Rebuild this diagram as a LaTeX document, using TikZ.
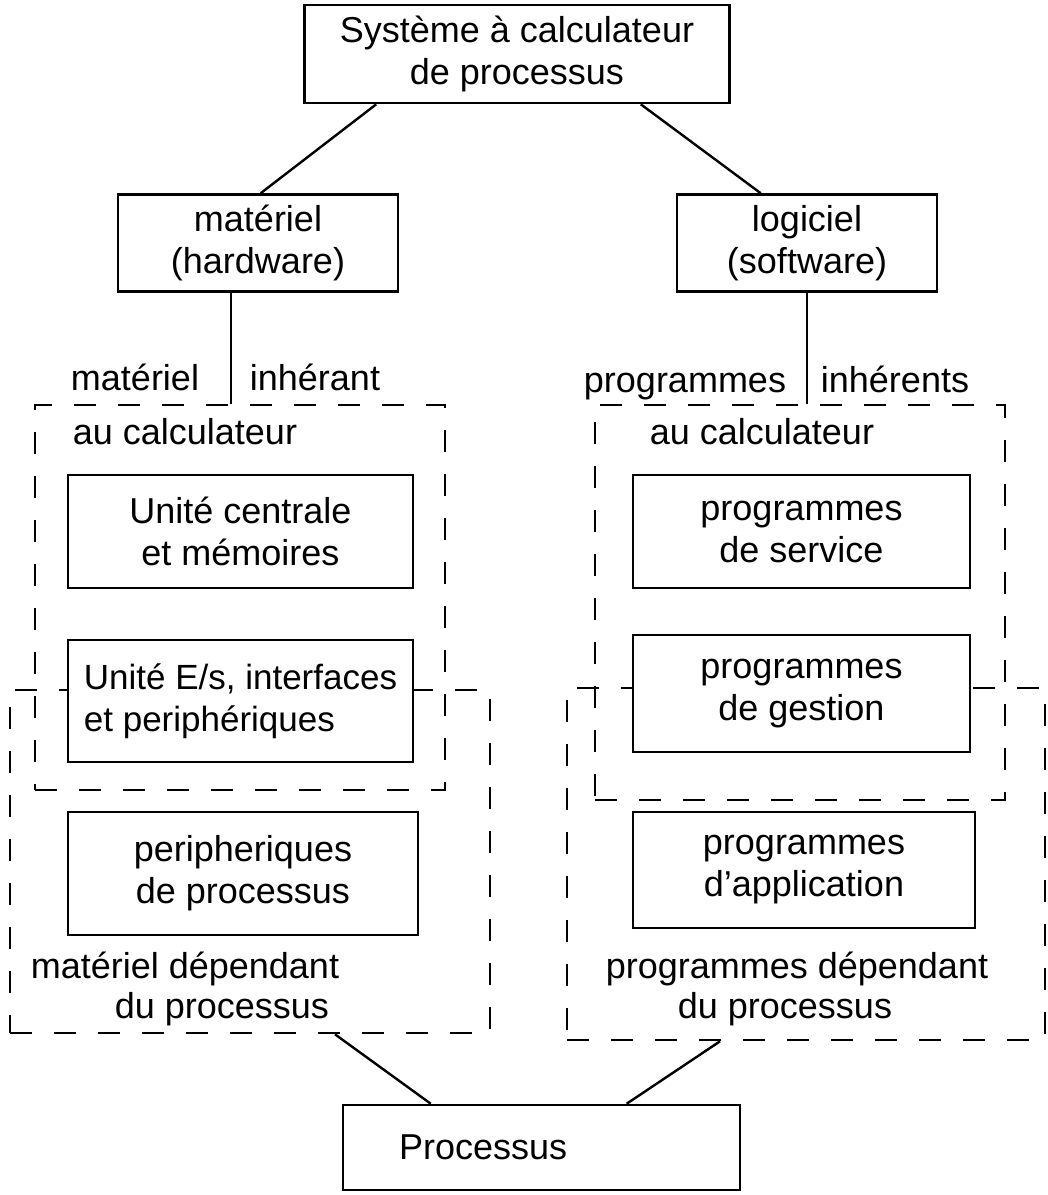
\documentclass[tikz,border=0pt]{standalone}
\usepackage{fontspec}
\setmainfont{Liberation Sans}
\usetikzlibrary{calc,positioning}
\tikzset{
  boite/.style={draw,fill=white,line width=1.3pt,inner sep=0pt,align=center},
  cadre/.style={draw,line width=1.3pt,dash pattern=on 11pt off 11pt,inner sep=0pt},
  taille/.style 2 args={minimum width=#1*0.5pt,minimum height=#2*0.5pt},
  trait/.style={line width=1.2pt},
  txt/.style={inner sep=1pt,anchor=base},
}

\begin{document}
\begin{tikzpicture}[x=0.5pt,y=-0.5pt,font=\fontsize{18}{21}\selectfont]
  \useasboundingbox (0,0) rectangle (1048,1195);
  % cadres
  \node[cadre,taille={410}{385}] (hwin) at (240,597.5) {};
  \node[cadre,taille={480}{343}] (hwdep) at (250,861.5) {};
  \node[cadre,taille={410}{395}] (swin) at (800,602.5) {};
  \node[cadre,taille={478}{352}] (swdep) at (806,864) {};
  % boites
  \node[boite,taille={425}{98}] (sys) at (517,54) {Système à calculateur\\de processus};
  \node[boite,taille={280}{97}] (mat) at (258,243) {matériel\\(hardware)};
  \node[boite,taille={260}{97}] (log) at (807,243) {logiciel\\(software)};
  \node[boite,taille={345}{113}] (cpu) at (240.5,531.5) {Unité centrale\\et mémoires};
  \node[boite,taille={345}{122},align=left,font=\fontsize{17.5}{21}\selectfont] (ios) at (240.5,701)
    {Unité E/s, interfaces\\et periphériques};
  \node[boite,taille={350}{123}] (pp) at (243,873.5) {peripheriques\\de processus};
  \node[boite,taille={337}{113}] (svc) at (801.5,531.5) {programmes\\de service};
  \node[boite,taille={337}{117}] (gest) at (801.5,693.5) {programmes\\de gestion};
  \node[boite,taille={342}{116}] (app) at (804,870) {programmes\\d'application};
  \node[boite,taille={397}{85},text width=198.5pt,align=left] (proc) at (541.5,1147.5)
    {\hspace*{28pt}Processus};
  % textes
  \node[txt] (hwa) at (135,390) {matériel};
  \node[txt] (hwb) at (315,390) {inhérant};
  \node[txt] (hwc) at (185,444) {au calculateur};
  \node[txt] (swa) at (685,392) {programmes};
  \node[txt] (swb) at (895,392) {inhérents};
  \node[txt] (swc) at (762,444) {au calculateur};
  \node[txt] (hdl) at (185,978) {matériel dépendant};
  \node[txt] (hdm) at (222,1018) {du processus};
  \node[txt] (sdl) at (797,978) {programmes dépendant};
  \node[txt] (sdm) at (785,1018) {du processus};
  % liaisons
  \draw[trait] ($(sys.south west)+(73,0)$) -- ($(mat.north west)+(144,0)$);
  \draw[trait] ($(sys.south east)+(-90,0)$) -- ($(log.north west)+(85,0)$);
  \draw[trait] ($(mat.south)+(-27,0)$) coordinate (m1) -- (m1 |- hwin.north);
  \draw[trait] (log.south) -- (log.south |- swin.north);
  \draw[trait] ($(hwdep.south)+(85,0)$) -- ($(proc.north west)+(89,0)$);
  \draw[trait] ($(swdep.south)+(-86,0)$) -- ($(proc.north west)+(285,0)$);
\end{tikzpicture}
\end{document}
